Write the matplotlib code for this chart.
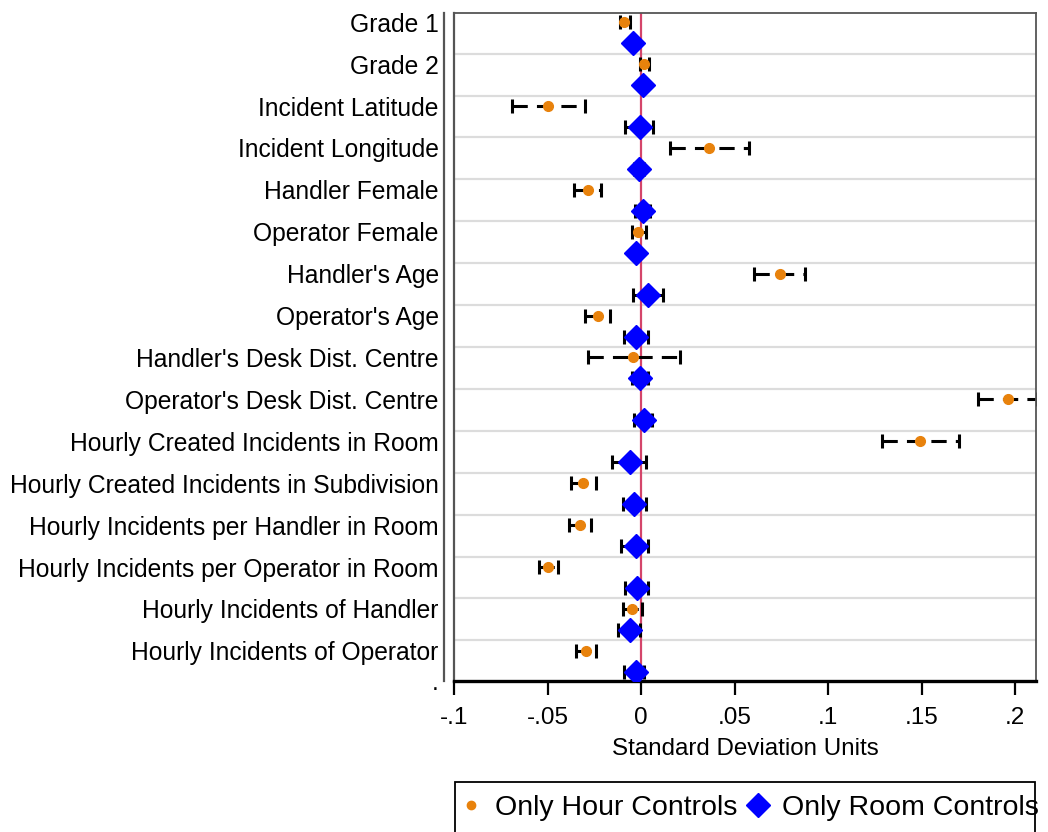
import numpy as np
import matplotlib.pyplot as plt
from matplotlib.lines import Line2D
from matplotlib.patches import Rectangle

plt.rcParams['font.family'] = ['Liberation Sans', 'DejaVu Sans']

# Variables (top to bottom)
labels = ["Grade 1", "Grade 2", "Incident Latitude", "Incident Longitude",
          "Handler Female", "Operator Female", "Handler's Age", "Operator's Age",
          "Handler's Desk Dist. Centre", "Operator's Desk Dist. Centre",
          "Hourly Created Incidents in Room", "Hourly Created Incidents in Subdivision",
          "Hourly Incidents per Handler in Room", "Hourly Incidents per Operator in Room",
          "Hourly Incidents of Handler", "Hourly Incidents of Operator"]

# Only Hour Controls: estimate and 95% CI
hour_b = [-0.0093, 0.0014, -0.0498, 0.0365, -0.0281, -0.0018, 0.0741, -0.0231,
          -0.0041, 0.1960, 0.1490, -0.0311, -0.0327, -0.0496, -0.0050, -0.0295]
hour_lo = [-0.0110, -0.0005, -0.0690, 0.0156, -0.0356, -0.0050, 0.0604, -0.0297,
           -0.0281, 0.1800, 0.1290, -0.0377, -0.0386, -0.0544, -0.0098, -0.0345]
hour_hi = [-0.0060, 0.0043, -0.0300, 0.0576, -0.0213, 0.0027, 0.0876, -0.0165,
           0.0208, 0.2115, 0.1700, -0.0240, -0.0268, -0.0443, 0.0007, -0.0240]

# Only Room Controls: estimate and 95% CI
room_b = [-0.0045, 0.0013, -0.0004, -0.0012, 0.0010, -0.0027, 0.0036, -0.0027,
          -0.0004, 0.0018, -0.0060, -0.0039, -0.0027, -0.0021, -0.0060, -0.0027]
room_lo = [-0.0060, -0.0005, -0.0084, -0.0040, -0.0030, -0.0050, -0.0041, -0.0091,
           -0.0050, -0.0036, -0.0153, -0.0098, -0.0105, -0.0084, -0.0121, -0.0091]
room_hi = [-0.0030, 0.0030, 0.0066, 0.0016, 0.0050, -0.0004, 0.0116, 0.0036,
           0.0036, 0.0060, 0.0027, 0.0027, 0.0036, 0.0036, -0.0005, 0.0016]

xticks = [-0.1, -0.05, 0, 0.05, 0.1, 0.15, 0.2]
xticklabels = ["-.1", "-.05", "0", ".05", ".1", ".15", ".2"]

orange = "#e8820c"
blue = "#0000ff"

y = np.arange(len(labels))
y_hour = y - 0.25
y_room = y + 0.25

fig = plt.figure(figsize=(10.48, 8.32), dpi=100)
ax = fig.add_axes([454 / 1048, 1 - 681 / 832, (1036 - 454) / 1048, (681 - 13) / 832])

# gridlines between variables
for g in y[:-1] + 0.5:
    ax.axhline(g, color="#dcdcdc", lw=1.6, zorder=0)

ax.axvline(0, color="#d4456a", lw=1.6, zorder=1)

def ci(b, lo, hi, yy):
    b = np.array(b)
    err = [b - np.array(lo), np.array(hi) - b]
    eb = ax.errorbar(b, yy, xerr=err, fmt="none", ecolor="black", elinewidth=2.2,
                     capsize=5, capthick=2.2, zorder=2)
    eb[2][0].set_linestyle((0, (5, 3)))

ci(hour_b, hour_lo, hour_hi, y_hour)
ci(room_b, room_lo, room_hi, y_room)

ax.plot(hour_b, y_hour, "o", color=orange, ms=7, zorder=3)
ax.plot(room_b, y_room, "D", color=blue, ms=12, zorder=3)

ax.set_xlim(-0.1, 0.2112)
ax.set_ylim(15.47, -0.47)
ax.set_xticks(xticks)
ax.set_xticklabels(xticklabels)
ax.set_yticks(list(y_hour) + [15.47])
ax.set_yticklabels(labels + ["."])
ax.tick_params(axis="y", length=0, pad=4, labelsize=17.7, colors="black")
ax.tick_params(axis="x", length=10, width=1.6, pad=9, labelsize=17.5, colors="black")
ax.set_xlabel("Standard Deviation Units", fontsize=17.4, labelpad=6)

for s in ["top", "right"]:
    ax.spines[s].set_color("#555555")
    ax.spines[s].set_linewidth(1.3)
ax.spines["bottom"].set_color("black")
ax.spines["bottom"].set_linewidth(2.4)
ax.spines["left"].set_position(("outward", 7))
ax.spines["left"].set_color("#555555")
ax.spines["left"].set_linewidth(1.6)
# inner frame line of the plot region
ax.plot([0, 0], [0, 1], transform=ax.transAxes, color="#555555", lw=1.6, clip_on=False)

# legend
handles = [Line2D([], [], marker="o", color=orange, ls="none", ms=6),
           Line2D([], [], marker="D", color=blue, ls="none", ms=12)]
fig.legend(handles, ["Only Hour Controls", "Only Room Controls"], loc="center left",
           bbox_to_anchor=(434 / 1048, 1 - 808 / 832), ncol=2, frameon=False,
           fontsize=20.5, handlelength=0.8, handletextpad=0.45, columnspacing=0.3)
fig.patches.append(Rectangle((455 / 1048, -0.02), (1035 - 455) / 1048, (0.02 + 1 - 782 / 832),
                             transform=fig.transFigure, fill=False, edgecolor="black", lw=1.3))

fig.savefig("out.png", dpi=100)
